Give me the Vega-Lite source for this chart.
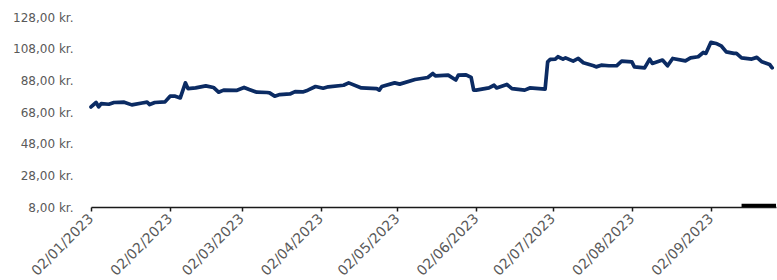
{
  "$schema": "https://vega.github.io/schema/vega-lite/v6.json",
  "autosize": "none",
  "width": 685,
  "height": 190,
  "padding": {"left": 91, "top": 17, "right": 1, "bottom": 73},
  "background": "white",
  "config": {
    "view": {"stroke": null},
    "font": "DejaVu Sans"
  },
  "datasets": {
    "price": [
      {"date": "2023-01-02", "value": 71.2},
      {"date": "2023-01-04", "value": 74.0},
      {"date": "2023-01-05", "value": 71.2},
      {"date": "2023-01-06", "value": 73.3},
      {"date": "2023-01-09", "value": 72.9},
      {"date": "2023-01-11", "value": 74.0},
      {"date": "2023-01-15", "value": 74.2},
      {"date": "2023-01-18", "value": 72.5},
      {"date": "2023-01-22", "value": 73.7},
      {"date": "2023-01-24", "value": 74.2},
      {"date": "2023-01-25", "value": 72.7},
      {"date": "2023-01-27", "value": 74.0},
      {"date": "2023-01-31", "value": 74.4},
      {"date": "2023-02-02", "value": 78.0},
      {"date": "2023-02-04", "value": 78.0},
      {"date": "2023-02-06", "value": 76.9},
      {"date": "2023-02-08", "value": 86.4},
      {"date": "2023-02-09", "value": 82.8},
      {"date": "2023-02-12", "value": 83.2},
      {"date": "2023-02-16", "value": 84.5},
      {"date": "2023-02-19", "value": 83.5},
      {"date": "2023-02-21", "value": 80.5},
      {"date": "2023-02-23", "value": 81.8},
      {"date": "2023-02-28", "value": 81.6},
      {"date": "2023-03-03", "value": 83.5},
      {"date": "2023-03-05", "value": 82.2},
      {"date": "2023-03-08", "value": 80.5},
      {"date": "2023-03-12", "value": 80.3},
      {"date": "2023-03-13", "value": 80.1},
      {"date": "2023-03-15", "value": 78.0},
      {"date": "2023-03-17", "value": 79.0},
      {"date": "2023-03-21", "value": 79.4},
      {"date": "2023-03-23", "value": 80.9},
      {"date": "2023-03-26", "value": 80.7},
      {"date": "2023-03-28", "value": 81.8},
      {"date": "2023-03-31", "value": 84.1},
      {"date": "2023-04-03", "value": 83.0},
      {"date": "2023-04-05", "value": 83.9},
      {"date": "2023-04-11", "value": 84.9},
      {"date": "2023-04-13", "value": 86.4},
      {"date": "2023-04-18", "value": 83.2},
      {"date": "2023-04-24", "value": 82.8},
      {"date": "2023-04-25", "value": 81.8},
      {"date": "2023-04-26", "value": 84.1},
      {"date": "2023-05-01", "value": 86.4},
      {"date": "2023-05-03", "value": 85.6},
      {"date": "2023-05-09", "value": 88.5},
      {"date": "2023-05-14", "value": 89.8},
      {"date": "2023-05-16", "value": 92.3},
      {"date": "2023-05-17", "value": 90.8},
      {"date": "2023-05-22", "value": 91.3},
      {"date": "2023-05-25", "value": 88.2},
      {"date": "2023-05-26", "value": 91.3},
      {"date": "2023-05-29", "value": 91.5},
      {"date": "2023-05-31", "value": 89.8},
      {"date": "2023-06-01", "value": 81.8},
      {"date": "2023-06-02", "value": 81.8},
      {"date": "2023-06-07", "value": 83.2},
      {"date": "2023-06-09", "value": 84.9},
      {"date": "2023-06-10", "value": 83.2},
      {"date": "2023-06-14", "value": 85.4},
      {"date": "2023-06-16", "value": 82.8},
      {"date": "2023-06-21", "value": 81.8},
      {"date": "2023-06-23", "value": 83.2},
      {"date": "2023-06-29", "value": 82.4},
      {"date": "2023-06-30", "value": 99.7},
      {"date": "2023-07-01", "value": 101.2},
      {"date": "2023-07-03", "value": 101.4},
      {"date": "2023-07-04", "value": 102.9},
      {"date": "2023-07-06", "value": 101.4},
      {"date": "2023-07-07", "value": 102.2},
      {"date": "2023-07-10", "value": 100.1},
      {"date": "2023-07-12", "value": 101.8},
      {"date": "2023-07-14", "value": 99.1},
      {"date": "2023-07-18", "value": 97.2},
      {"date": "2023-07-19", "value": 96.5},
      {"date": "2023-07-21", "value": 97.6},
      {"date": "2023-07-24", "value": 97.2},
      {"date": "2023-07-27", "value": 97.2},
      {"date": "2023-07-29", "value": 100.1},
      {"date": "2023-08-02", "value": 99.7},
      {"date": "2023-08-03", "value": 96.5},
      {"date": "2023-08-07", "value": 95.9},
      {"date": "2023-08-09", "value": 101.4},
      {"date": "2023-08-10", "value": 98.7},
      {"date": "2023-08-14", "value": 100.8},
      {"date": "2023-08-16", "value": 97.2},
      {"date": "2023-08-18", "value": 101.8},
      {"date": "2023-08-23", "value": 100.3},
      {"date": "2023-08-25", "value": 102.2},
      {"date": "2023-08-28", "value": 102.9},
      {"date": "2023-08-30", "value": 105.6},
      {"date": "2023-08-31", "value": 105.0},
      {"date": "2023-09-02", "value": 112.0},
      {"date": "2023-09-04", "value": 111.3},
      {"date": "2023-09-06", "value": 109.8},
      {"date": "2023-09-08", "value": 106.0},
      {"date": "2023-09-11", "value": 105.0},
      {"date": "2023-09-12", "value": 105.0},
      {"date": "2023-09-14", "value": 102.2},
      {"date": "2023-09-18", "value": 101.4},
      {"date": "2023-09-20", "value": 102.5},
      {"date": "2023-09-22", "value": 99.7},
      {"date": "2023-09-25", "value": 98.0},
      {"date": "2023-09-26", "value": 95.9}
    ],
    "bar": [
      {"date": "2023-09-14", "end": "2023-09-30", "value": 8, "top": 10}
    ]
  },
  "encoding": {
    "x": {
      "field": "date",
      "type": "temporal",
      "scale": {
        "type": "utc",
        "domain": [
          {"year": 2023, "month": 1, "date": 2, "utc": true},
          {"year": 2023, "month": 9, "date": 27, "hours": 12, "utc": true}
        ]
      },
      "axis": {
        "title": null,
        "grid": false,
        "values": [
          {"year": 2023, "month": 1, "date": 2, "utc": true},
          {"year": 2023, "month": 2, "date": 2, "utc": true},
          {"year": 2023, "month": 3, "date": 2, "utc": true},
          {"year": 2023, "month": 4, "date": 2, "utc": true},
          {"year": 2023, "month": 5, "date": 2, "utc": true},
          {"year": 2023, "month": 6, "date": 2, "utc": true},
          {"year": 2023, "month": 7, "date": 2, "utc": true},
          {"year": 2023, "month": 8, "date": 2, "utc": true},
          {"year": 2023, "month": 9, "date": 2, "utc": true}
        ],
        "format": "%d/%m/%Y",
        "labelAngle": -45,
        "labelAlign": "right",
        "labelBaseline": "middle",
        "labelFontSize": 14,
        "labelColor": "#595959",
        "labelFont": "DejaVu Sans",
        "labelPadding": 5,
        "labelOverlap": false,
        "labelBound": false,
        "labelFlush": false,
        "domainColor": "#1a1a1a",
        "domainWidth": 1.5,
        "tickColor": "#1a1a1a",
        "tickWidth": 1.5,
        "tickSize": 4
      }
    },
    "y": {
      "field": "value",
      "type": "quantitative",
      "scale": {"domain": [8, 128], "nice": false, "zero": false},
      "axis": {
        "title": null,
        "grid": false,
        "domain": false,
        "ticks": false,
        "values": [8, 28, 48, 68, 88, 108, 128],
        "labelExpr": "replace(format(datum.value, '.2f'), '.', ',') + ' kr.'",
        "labelFontSize": 12,
        "labelColor": "#595959",
        "labelFont": "DejaVu Sans",
        "labelPadding": 18,
        "labelOverlap": false,
        "labelBound": false,
        "labelFlush": false
      }
    }
  },
  "layer": [
    {
      "data": {"name": "bar"},
      "mark": {"type": "rect", "color": "#000000", "clip": true},
      "encoding": {
        "x2": {"field": "end"},
        "y2": {"field": "top"}
      }
    },
    {
      "data": {"name": "price"},
      "mark": {"type": "line", "color": "#0b2b63", "strokeWidth": 3.7, "strokeJoin": "round", "strokeCap": "round"}
    }
  ]
}
